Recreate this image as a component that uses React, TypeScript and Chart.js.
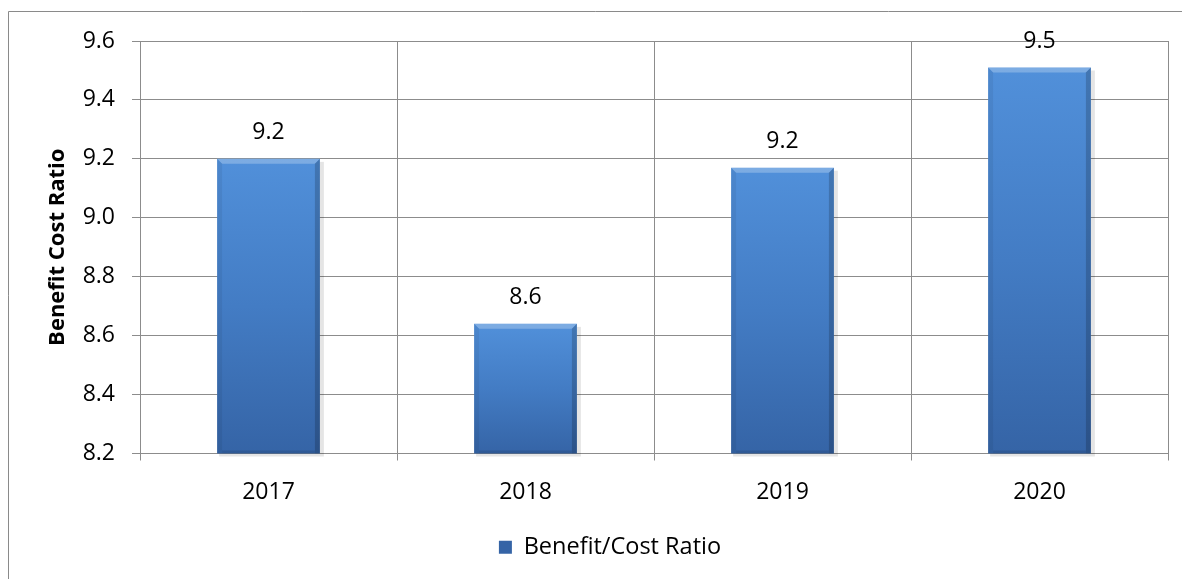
import React, { useEffect, useRef } from "react";
import { Chart, registerables } from "chart.js";

Chart.register(...registerables);

const categories = ["2017", "2018", "2019", "2020"];
const ratioValues = [9.2, 8.64, 9.17, 9.51];
const seriesName = "Benefit/Cost Ratio";
const yMin = 8.2;
const yMax = 9.6;
const yStep = 0.2;

const FONT = "'Open Sans', 'Noto Sans', sans-serif";
const GRID = "#8c8c8c";

const framePlugin = {
  id: "frame",
  afterLayout(chart: any) {
    if (chart.legend) {
      chart.legend.left += 52;
    }
  },
  beforeDraw(chart: any) {
    const ctx = chart.ctx;
    ctx.save();
    ctx.fillStyle = "#ffffff";
    ctx.fillRect(0, 0, chart.width, chart.height);
    ctx.strokeStyle = "#8a8a8a";
    ctx.lineWidth = 1;
    ctx.beginPath();
    ctx.moveTo(8.5, chart.height);
    ctx.lineTo(8.5, 11.5);
    ctx.lineTo(chart.width, 11.5);
    ctx.stroke();
    ctx.restore();
  },
};

function barBox(chart: any, bar: any) {
  const { x, y, width } = bar.getProps(["x", "y", "width"], true);
  const base = chart.scales.y.getPixelForValue(yMin);
  return { l: x - width / 2, r: x + width / 2, t: y, bt: base, w: width };
}

const bevelPlugin = {
  id: "bevel",
  beforeDatasetsDraw(chart: any) {
    const ctx = chart.ctx;
    const meta = chart.getDatasetMeta(0);
    ctx.save();
    meta.data.forEach((bar: any) => {
      const { l, t, bt, w } = barBox(chart, bar);
      ctx.fillStyle = "rgba(0,0,0,0.10)";
      ctx.fillRect(l + 2, t + 3, w + 2, bt - t);
    });
    ctx.restore();
  },
  afterDatasetsDraw(chart: any) {
    const ctx = chart.ctx;
    const meta = chart.getDatasetMeta(0);
    const b = 5;
    ctx.save();
    meta.data.forEach((bar: any) => {
      const { l, r, t, bt, w } = barBox(chart, bar);
      ctx.fillStyle = "rgba(255,255,255,0.25)";
      ctx.beginPath();
      ctx.moveTo(l, t);
      ctx.lineTo(r, t);
      ctx.lineTo(r - b, t + b);
      ctx.lineTo(l + b, t + b);
      ctx.closePath();
      ctx.fill();
      ctx.fillStyle = "rgba(0,0,0,0.06)";
      ctx.beginPath();
      ctx.moveTo(l, t);
      ctx.lineTo(l + b, t + b);
      ctx.lineTo(l + b, bt);
      ctx.lineTo(l, bt);
      ctx.closePath();
      ctx.fill();
      ctx.fillStyle = "rgba(0,0,0,0.18)";
      ctx.beginPath();
      ctx.moveTo(r, t);
      ctx.lineTo(r - b, t + b);
      ctx.lineTo(r - b, bt);
      ctx.lineTo(r, bt);
      ctx.closePath();
      ctx.fill();
      ctx.fillStyle = "rgba(0,0,0,0.10)";
      ctx.fillRect(l + b, bt - 3, w - 2 * b, 3);
    });
    ctx.restore();
  },
};

const valueLabelPlugin = {
  id: "valueLabels",
  afterDatasetsDraw(chart: any) {
    const ctx = chart.ctx;
    const meta = chart.getDatasetMeta(0);
    const data = chart.data.datasets[0].data as number[];
    ctx.save();
    ctx.font = `23px ${FONT}`;
    ctx.fillStyle = "#000000";
    ctx.textAlign = "center";
    ctx.textBaseline = "middle";
    meta.data.forEach((bar: any, i: number) => {
      const { x, y } = bar.getProps(["x", "y"], true);
      ctx.fillText(data[i].toFixed(1), x, y - 26);
    });
    ctx.restore();
  },
};

export default function App() {
  const canvasRef = useRef<HTMLCanvasElement | null>(null);

  useEffect(() => {
    const canvas = canvasRef.current;
    if (!canvas) return;
    const chart = new Chart(canvas, {
      type: "bar",
      data: {
        labels: categories,
        datasets: [
          {
            label: seriesName,
            data: ratioValues,
            backgroundColor: (c: any) => {
              const ch = c.chart;
              if (c.type !== "data" || !ch.chartArea || !ch.scales.y) return "#4b87d1";
              const ys = ch.scales.y;
              const top = ys.getPixelForValue(ratioValues[c.dataIndex]);
              const bottom = ys.getPixelForValue(yMin);
              const g = ch.ctx.createLinearGradient(0, top, 0, bottom);
              g.addColorStop(0, "#5190da");
              g.addColorStop(0.5, "#437cc4");
              g.addColorStop(1, "#3564a6");
              return g;
            },
            borderWidth: 0,
            barPercentage: 0.4,
            categoryPercentage: 1,
          },
        ],
      },
      options: {
        responsive: false,
        animation: false,
        layout: { padding: { top: 41, right: 14, bottom: 10, left: 0 } },
        font: { family: FONT },
        plugins: {
          tooltip: { enabled: false },
          legend: {
            position: "bottom",
            labels: {
              font: { family: FONT, size: 23.5 },
              color: "#000000",
              boxWidth: 13,
              boxHeight: 13,
              padding: 10,
            },
          },
        },
        scales: {
          x: {
            grid: { color: GRID, lineWidth: 1, tickLength: 7, offset: true, drawTicks: true },
            border: { color: GRID },
            ticks: { font: { family: FONT, size: 23 }, color: "#000000", padding: 18 },
            afterFit: (s: any) => {
              s.height = 72;
            },
          },
          y: {
            min: yMin,
            max: yMax,
            grid: { color: GRID, lineWidth: 1, tickLength: 8 },
            border: { color: GRID },
            ticks: {
              stepSize: yStep,
              font: { family: FONT, size: 23 },
              color: "#000000",
              padding: 17,
              callback: (v: any) => Number(v).toFixed(1),
            },
            title: {
              display: true,
              text: "Benefit Cost Ratio",
              font: { family: FONT, size: 22, weight: "bold" },
              color: "#000000",
              padding: { top: 45, bottom: 0 },
            },
            afterFit: (s: any) => {
              s.width = 140;
            },
          },
        },
      },
      plugins: [framePlugin, bevelPlugin, valueLabelPlugin],
    });
    return () => chart.destroy();
  }, []);

  return (
    <div style={{ position: "fixed", left: 0, top: 0, width: 1182, height: 579, background: "#fff" }}>
      <canvas ref={canvasRef} width={1182} height={579} style={{ display: "block" }} />
    </div>
  );
}
